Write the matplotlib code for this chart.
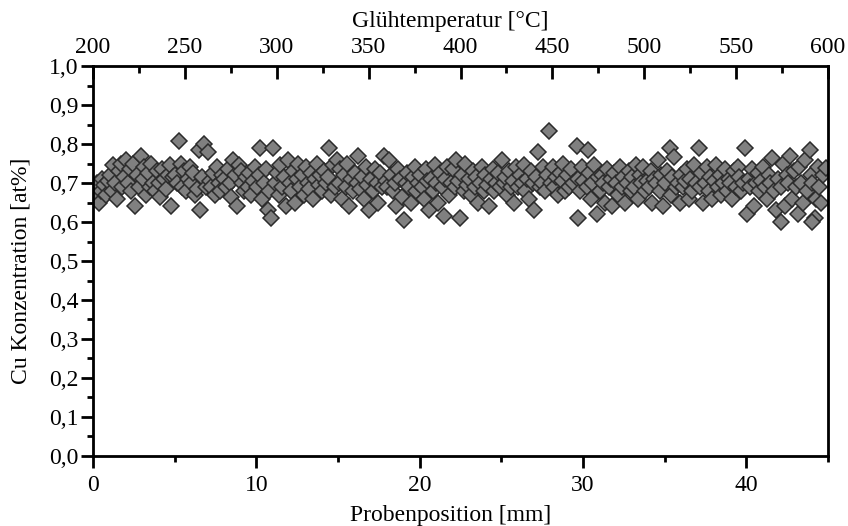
import numpy as np
import matplotlib
matplotlib.use("Agg")
import matplotlib.pyplot as plt
from matplotlib.ticker import MultipleLocator, FuncFormatter

plt.rcParams['font.family'] = ['Liberation Serif', 'DejaVu Serif']
plt.rcParams['font.size'] = 17

# Probe positions [mm], one row per millimetre
pos_rows = [
    [0.03, 0.13, 0.25, 0.36, 0.46, 0.58, 0.69, 0.79, 0.91],
    [1.03, 1.14, 1.25, 1.36, 1.47, 1.58, 1.69, 1.80, 1.91],
    [2.02, 2.14, 2.25, 2.35, 2.47, 2.58, 2.70, 2.80, 2.92],
    [3.03, 3.14, 3.24, 3.36, 3.47, 3.58, 3.69, 3.80, 3.91],
    [4.03, 4.13, 4.25, 4.36, 4.47, 4.58, 4.69, 4.80, 4.92],
    [5.03, 5.14, 5.25, 5.36, 5.46, 5.58, 5.69, 5.80, 5.91],
    [6.02, 6.14, 6.25, 6.36, 6.47, 6.58, 6.69, 6.81, 6.91],
    [7.03, 7.14, 7.25, 7.36, 7.47, 7.58, 7.70, 7.80, 7.91],
    [8.03, 8.13, 8.25, 8.36, 8.47, 8.58, 8.69, 8.80, 8.92],
    [9.03, 9.14, 9.25, 9.35, 9.47, 9.58, 9.69, 9.80, 9.91],
    [10.03, 10.14, 10.25, 10.36, 10.47, 10.58, 10.69, 10.80, 10.91],
    [11.02, 11.14, 11.25, 11.36, 11.47, 11.58, 11.69, 11.80, 11.91],
    [12.03, 12.14, 12.25, 12.36, 12.46, 12.58, 12.69, 12.80, 12.91],
    [13.03, 13.14, 13.25, 13.36, 13.47, 13.58, 13.69, 13.81, 13.91],
    [14.03, 14.13, 14.25, 14.36, 14.47, 14.58, 14.69, 14.80, 14.91],
    [15.03, 15.14, 15.25, 15.36, 15.47, 15.58, 15.70, 15.80, 15.91],
    [16.03, 16.14, 16.24, 16.36, 16.47, 16.58, 16.69, 16.80, 16.92],
    [17.03, 17.14, 17.25, 17.36, 17.47, 17.58, 17.69, 17.80, 17.91],
    [18.02, 18.14, 18.25, 18.36, 18.47, 18.58, 18.69, 18.80, 18.91],
    [19.03, 19.14, 19.25, 19.36, 19.47, 19.57, 19.69, 19.80, 19.91],
    [20.03, 20.14, 20.25, 20.36, 20.47, 20.58, 20.69, 20.80, 20.91],
    [21.03, 21.14, 21.25, 21.36, 21.47, 21.58, 21.69, 21.80, 21.91],
    [22.03, 22.14, 22.25, 22.36, 22.47, 22.58, 22.69, 22.80, 22.91],
    [23.03, 23.14, 23.25, 23.36, 23.47, 23.58, 23.69, 23.80, 23.91],
    [24.03, 24.14, 24.25, 24.36, 24.47, 24.58, 24.69, 24.80, 24.91],
    [25.03, 25.14, 25.25, 25.36, 25.47, 25.58, 25.69, 25.80, 25.91],
    [26.03, 26.14, 26.25, 26.36, 26.47, 26.58, 26.69, 26.80, 26.91],
    [27.03, 27.14, 27.25, 27.36, 27.47, 27.58, 27.69, 27.80, 27.91],
    [28.03, 28.14, 28.25, 28.36, 28.47, 28.58, 28.69, 28.80, 28.91],
    [29.03, 29.14, 29.25, 29.36, 29.65, 29.72, 29.69, 29.80, 29.91],
    [30.03, 30.30, 30.25, 30.36, 30.47, 30.58, 30.69, 30.88, 30.91],
    [31.03, 31.14, 31.25, 31.36, 31.47, 31.58, 31.69, 31.80, 31.91],
    [32.03, 32.14, 32.25, 32.36, 32.47, 32.58, 32.69, 32.80, 32.91],
    [33.03, 33.14, 33.25, 33.36, 33.47, 33.58, 33.69, 33.80, 33.91],
    [34.03, 34.14, 34.25, 34.36, 34.47, 34.58, 34.69, 34.80, 34.91],
    [35.03, 35.14, 35.30, 35.36, 35.47, 35.55, 35.69, 35.80, 35.91],
    [36.03, 36.14, 36.25, 36.36, 36.47, 36.58, 36.69, 36.80, 36.91],
    [37.10, 37.14, 37.25, 37.36, 37.47, 37.58, 37.69, 37.80, 37.91],
    [38.03, 38.14, 38.25, 38.36, 38.47, 38.58, 38.69, 38.80, 38.91],
    [39.03, 39.14, 39.25, 39.36, 39.47, 39.58, 39.69, 39.80, 39.90],
    [40.03, 40.14, 40.25, 40.36, 40.47, 40.58, 40.69, 40.80, 40.91],
    [41.03, 41.14, 41.25, 41.36, 41.47, 41.58, 41.69, 41.80, 41.91],
    [42.10, 42.14, 42.25, 42.36, 42.47, 42.58, 42.69, 42.80, 42.91],
    [43.03, 43.14, 43.25, 43.36, 43.47, 43.58, 43.69, 43.90, 43.95],
    [44.03, 44.20, 44.25, 44.36, 44.47, 44.05, 44.69, 44.60, 44.85],
]

# Cu concentration [at%], same layout
cu_rows = [
    [0.690, 0.660, 0.700, 0.650, 0.680, 0.710, 0.695, 0.670, 0.705],
    [0.720, 0.680, 0.745, 0.700, 0.660, 0.730, 0.750, 0.690, 0.715],
    [0.760, 0.700, 0.735, 0.680, 0.750, 0.640, 0.720, 0.690, 0.770],
    [0.710, 0.740, 0.670, 0.725, 0.690, 0.750, 0.700, 0.680, 0.730],
    [0.700, 0.665, 0.735, 0.710, 0.685, 0.720, 0.745, 0.640, 0.715],
    [0.720, 0.700, 0.808, 0.750, 0.690, 0.730, 0.680, 0.710, 0.740],
    [0.700, 0.725, 0.670, 0.685, 0.785, 0.630, 0.715, 0.800, 0.690],
    [0.780, 0.705, 0.690, 0.725, 0.670, 0.740, 0.700, 0.680, 0.720],
    [0.710, 0.690, 0.735, 0.700, 0.665, 0.760, 0.720, 0.640, 0.745],
    [0.730, 0.700, 0.680, 0.715, 0.690, 0.725, 0.670, 0.705, 0.740],
    [0.690, 0.720, 0.790, 0.660, 0.700, 0.735, 0.630, 0.680, 0.610],
    [0.790, 0.700, 0.725, 0.670, 0.745, 0.690, 0.715, 0.640, 0.760],
    [0.700, 0.680, 0.730, 0.650, 0.710, 0.750, 0.690, 0.720, 0.670],
    [0.740, 0.700, 0.685, 0.725, 0.660, 0.710, 0.750, 0.695, 0.720],
    [0.680, 0.730, 0.700, 0.715, 0.790, 0.670, 0.745, 0.690, 0.760],
    [0.700, 0.735, 0.660, 0.720, 0.690, 0.750, 0.640, 0.710, 0.680],
    [0.725, 0.700, 0.770, 0.685, 0.715, 0.660, 0.740, 0.695, 0.630],
    [0.710, 0.680, 0.735, 0.700, 0.650, 0.725, 0.690, 0.770, 0.705],
    [0.690, 0.760, 0.720, 0.680, 0.700, 0.640, 0.735, 0.710, 0.665],
    [0.605, 0.700, 0.725, 0.690, 0.650, 0.715, 0.740, 0.680, 0.700],
    [0.720, 0.690, 0.660, 0.735, 0.705, 0.630, 0.710, 0.680, 0.745],
    [0.700, 0.650, 0.725, 0.690, 0.615, 0.710, 0.740, 0.670, 0.700],
    [0.735, 0.690, 0.760, 0.705, 0.610, 0.720, 0.680, 0.750, 0.695],
    [0.710, 0.670, 0.730, 0.690, 0.715, 0.650, 0.700, 0.740, 0.680],
    [0.720, 0.695, 0.640, 0.710, 0.735, 0.680, 0.700, 0.725, 0.690],
    [0.760, 0.700, 0.715, 0.670, 0.730, 0.690, 0.705, 0.650, 0.740],
    [0.690, 0.720, 0.700, 0.745, 0.680, 0.710, 0.660, 0.730, 0.700],
    [0.630, 0.715, 0.780, 0.690, 0.700, 0.740, 0.680, 0.720, 0.833],
    [0.700, 0.740, 0.690, 0.715, 0.670, 0.725, 0.705, 0.750, 0.680],
    [0.720, 0.690, 0.735, 0.700, 0.795, 0.610, 0.710, 0.680, 0.740],
    [0.705, 0.785, 0.690, 0.725, 0.660, 0.700, 0.745, 0.620, 0.715],
    [0.680, 0.720, 0.700, 0.650, 0.735, 0.690, 0.710, 0.640, 0.725],
    [0.700, 0.670, 0.740, 0.690, 0.715, 0.650, 0.700, 0.730, 0.680],
    [0.715, 0.690, 0.745, 0.660, 0.720, 0.700, 0.740, 0.680, 0.705],
    [0.690, 0.730, 0.650, 0.710, 0.700, 0.760, 0.680, 0.720, 0.640],
    [0.700, 0.730, 0.790, 0.670, 0.715, 0.767, 0.690, 0.700, 0.650],
    [0.720, 0.690, 0.705, 0.735, 0.660, 0.710, 0.680, 0.745, 0.700],
    [0.790, 0.690, 0.725, 0.650, 0.700, 0.740, 0.680, 0.715, 0.660],
    [0.705, 0.745, 0.690, 0.720, 0.670, 0.700, 0.735, 0.680, 0.710],
    [0.700, 0.660, 0.730, 0.690, 0.740, 0.715, 0.680, 0.700, 0.790],
    [0.620, 0.710, 0.690, 0.735, 0.640, 0.700, 0.725, 0.680, 0.705],
    [0.740, 0.690, 0.660, 0.720, 0.700, 0.765, 0.680, 0.630, 0.710],
    [0.600, 0.690, 0.750, 0.640, 0.720, 0.700, 0.770, 0.660, 0.730],
    [0.690, 0.620, 0.740, 0.700, 0.650, 0.760, 0.680, 0.785, 0.720],
    [0.700, 0.610, 0.660, 0.740, 0.690, 0.600, 0.720, 0.650, 0.738],
]

pos = np.concatenate(pos_rows)
cu = np.concatenate(cu_rows)

temp_range = (200, 600)

fig = plt.figure(figsize=(8.48, 5.26), dpi=100)
ax = fig.add_axes([0.1097, 0.1331, 0.8667, 0.7414])

ax.plot(pos, cu, 'D', ms=8.4, mfc='#808080', mec='#2b2b2b', mew=1.1, linestyle='none')

ax.set_xlim(0, 45)
ax.set_ylim(0, 1.0)
ax.xaxis.set_major_locator(MultipleLocator(10))
ax.xaxis.set_minor_locator(MultipleLocator(5))
ax.yaxis.set_major_locator(MultipleLocator(0.1))
ax.yaxis.set_minor_locator(MultipleLocator(0.05))
ax.yaxis.set_major_formatter(FuncFormatter(lambda v, p: f"{v:.1f}".replace('.', ',')))

for s in ax.spines.values():
    s.set_linewidth(2)
ax.tick_params(which='both', direction='out', width=2, top=False, right=False)
ax.tick_params(which='major', length=8.5)
ax.tick_params(which='minor', length=4.5)
ax.tick_params(axis='x', which='major', pad=5)
ax.tick_params(axis='y', which='major', pad=2)

ax.set_xlabel('Probenposition [mm]')
ax.set_ylabel('Cu Konzentration [at%]')
ax.xaxis.set_label_coords(0.486, -0.125)
ax.yaxis.set_label_coords(-0.084, 0.475)

top = ax.twiny()
top.set_xlim(*temp_range)
top.xaxis.set_major_locator(MultipleLocator(50))
top.xaxis.set_minor_locator(MultipleLocator(25))
top.tick_params(which='both', direction='in', width=2, pad=6)
top.tick_params(which='major', length=9)
top.tick_params(which='minor', length=5)
top.set_xlabel('Glühtemperatur [°C]')
top.xaxis.set_label_coords(0.486, 1.10)

fig.savefig('out.png', dpi=100)
